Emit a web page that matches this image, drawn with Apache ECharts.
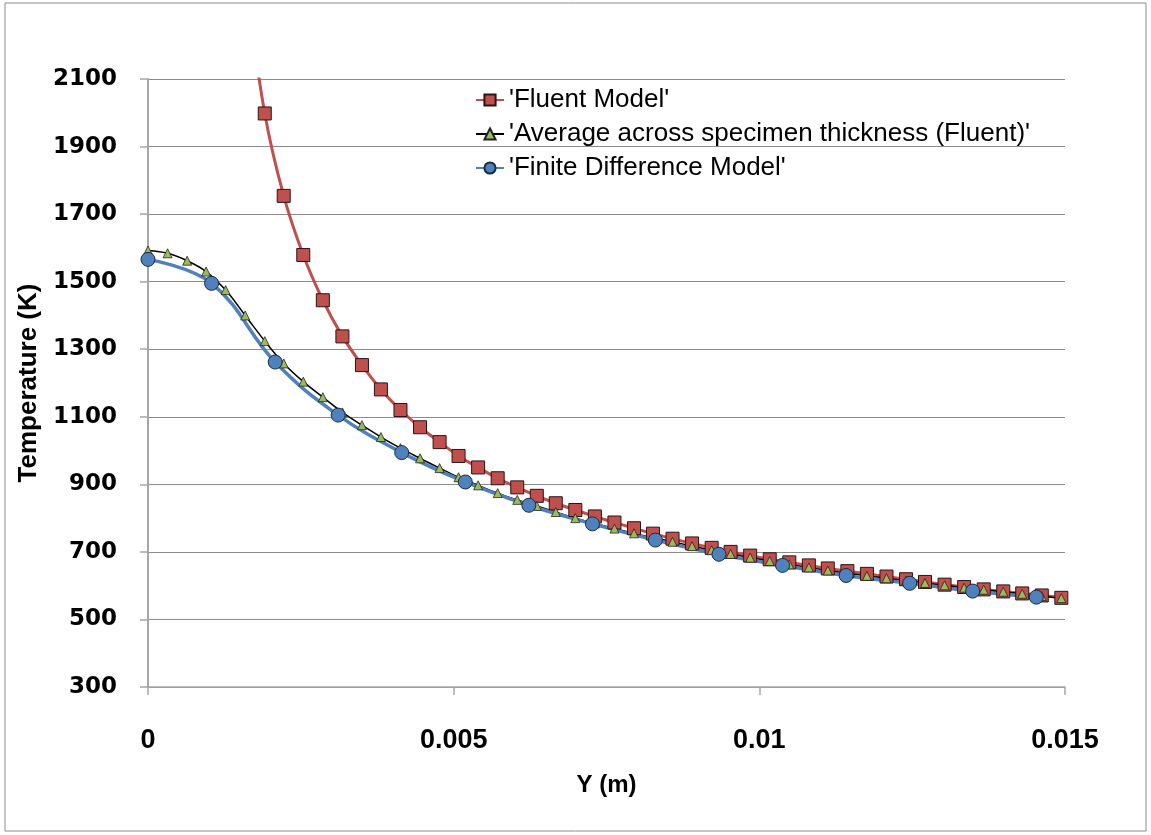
<!DOCTYPE html>
<html>
<head>
<meta charset="utf-8">
<title>Temperature vs Y</title>
<script src="https://cdn.jsdelivr.net/npm/echarts@6/dist/echarts.min.js"></script>
<style>
  html, body {
    margin: 0;
    padding: 0;
    background: #fff;
  }
  #main {
    width: 1151px;
    height: 835px;
  }
</style>
</head>
<body>
<div id="main"></div>
<script>
// Fluent mesh positions (m)
var xFluent = [
  0, 0.00032, 0.00064, 0.00095, 0.00127, 0.00159, 0.00191, 0.00222,
  0.00254, 0.00286, 0.00318, 0.0035, 0.00381, 0.00413, 0.00445, 0.00477,
  0.00508, 0.0054, 0.00572, 0.00604, 0.00636, 0.00667, 0.00699, 0.00731,
  0.00763, 0.00795, 0.00826, 0.00858, 0.0089, 0.00922, 0.00953, 0.00985,
  0.01017, 0.01049, 0.01081, 0.01112, 0.01144, 0.01176, 0.01208, 0.0124,
  0.01271, 0.01303, 0.01335, 0.01367, 0.01399, 0.0143, 0.01462, 0.01494
]
// 'Fluent Model' (K) - first points are above the axis max
var fluentModel = [
  null, null, null, null, null, 2400, 1998, 1754,
  1579, 1445, 1338, 1253, 1181, 1120, 1069, 1025,
  984, 950, 918, 891, 866, 844, 824, 805,
  787, 770, 754, 739, 725, 712, 700, 689,
  678, 669, 660, 651, 643, 635, 627, 619,
  611, 603, 596, 589, 583, 577, 571, 564
]
// 'Average across specimen thickness (Fluent)' (K)
var averageFluent = [
  1592, 1584, 1562, 1530, 1475, 1400, 1324, 1258,
  1204, 1158, 1113, 1075, 1040, 1007, 977, 948,
  921, 897, 874, 854, 836, 818, 800, 784,
  769, 755, 742, 730, 717, 705, 694, 683,
  673, 663, 654, 645, 637, 629, 622, 615,
  608, 601, 594, 588, 582, 576, 569, 563
]
// Finite difference nodes (m) and values (K)
var xFD = [0, 0.00104, 0.00208, 0.00311, 0.00415, 0.00519, 0.00623, 0.00727,
  0.0083, 0.00934, 0.01038, 0.01142, 0.01246, 0.01349, 0.01453]
var finiteDiff = [1566, 1495, 1262, 1105, 994, 907, 838, 783,
  735, 693, 660, 630, 607, 584, 566]

var xTicks = [0, 0.005, 0.01, 0.015]
var names = ["'Fluent Model'", "'Average across specimen thickness (Fluent)'", "'Finite Difference Model'"]

function pairs(xs, ys) {
  var out = []
  for (var i = 0; i < xs.length; i++) {
    out.push([xs[i], ys[i]])
  }
  return out
}

var gridColor = '#8c8c8c'
var axisColor = '#a6a6a6'
var myChart = echarts.init(document.getElementById('main'))
var option = {
  animation: false,
  backgroundColor: '#fff',
  graphic: [{
    type: 'rect',
    shape: { x: 5, y: 3, width: 1141, height: 828 },
    style: { fill: 'none', stroke: '#8c8c8c', lineWidth: 1 },
    silent: true
  }],
  grid: {
    left: 148,
    right: 86,
    top: 79,
    bottom: 148
  },
  legend: {
    orient: 'vertical',
    left: 470,
    top: 82,
    itemWidth: 28,
    itemHeight: 14,
    itemGap: 8,
    textStyle: {
      fontFamily: 'Liberation Sans',
      fontSize: 26,
      color: '#000'
    },
    data: names
  },
  xAxis: {
    type: 'value',
    min: 0,
    max: 0.015,
    interval: 0.005,
    name: 'Y (m)',
    nameLocation: 'middle',
    nameGap: 86,
    nameTextStyle: {
      fontFamily: 'Liberation Sans',
      fontWeight: 'bold',
      fontSize: 24,
      color: '#000'
    },
    axisLine: { show: true, lineStyle: { color: axisColor, width: 1.5 } },
    axisTick: { show: true, length: 8, lineStyle: { color: axisColor, width: 1.5 } },
    axisLabel: {
      margin: 40,
      fontFamily: 'Liberation Sans',
      fontWeight: 'bold',
      fontSize: 27,
      color: '#000',
      customValues: xTicks
    },
    splitLine: { show: false }
  },
  yAxis: {
    type: 'value',
    min: 300,
    max: 2100,
    interval: 200,
    name: 'Temperature (K)',
    nameLocation: 'middle',
    nameGap: 96,
    nameTextStyle: {
      fontFamily: 'Liberation Sans',
      fontWeight: 'bold',
      fontSize: 26,
      color: '#000'
    },
    axisLine: { show: true, lineStyle: { color: axisColor, width: 2 } },
    axisTick: { show: true, length: 8, lineStyle: { color: axisColor, width: 1.5 } },
    axisLabel: {
      margin: 31,
      fontFamily: 'DejaVu Sans',
      fontWeight: 'bold',
      fontSize: 23,
      color: '#000',
      formatter: function (v) { return String(v) }
    },
    splitLine: { show: true, lineStyle: { color: gridColor, width: 1.2 } }
  },
  series: [{
    name: names[0],
    type: 'line',
    data: pairs(xFluent, fluentModel),
    smooth: 0.35,
    clip: true,
    symbol: 'rect',
    symbolSize: 13,
    lineStyle: { color: '#c0504d', width: 3 },
    itemStyle: { color: '#c0504d', borderColor: '#2a1414', borderWidth: 1 }
  }, {
    name: names[1],
    type: 'line',
    data: pairs(xFluent, averageFluent),
    smooth: 0.35,
    clip: true,
    symbol: 'triangle',
    symbolSize: 9,
    lineStyle: { color: '#000', width: 1.5 },
    itemStyle: { color: '#9bbb59', borderColor: '#222', borderWidth: 0.8 }
  }, {
    name: names[2],
    type: 'line',
    data: pairs(xFD, finiteDiff),
    smooth: 0.4,
    clip: true,
    symbol: 'circle',
    symbolSize: 14,
    lineStyle: { color: '#4f81bd', width: 3.5 },
    itemStyle: { color: '#4f81bd', borderColor: '#1a2a40', borderWidth: 1 }
  }]
}
myChart.setOption(option)
</script>
</body>
</html>
